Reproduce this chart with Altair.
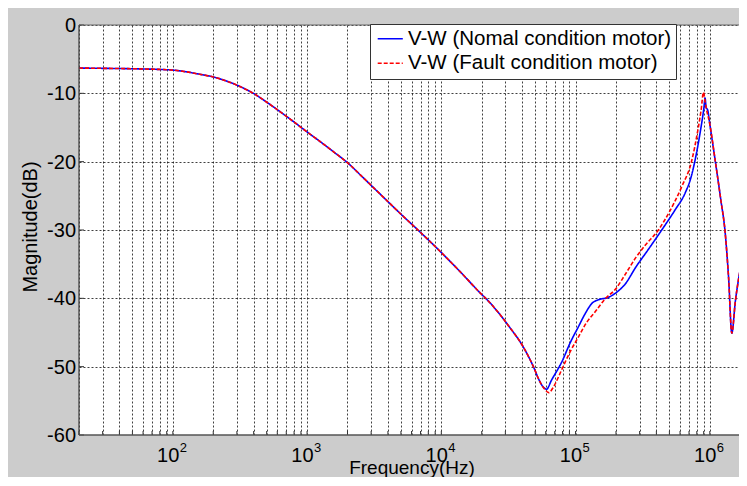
import altair as alt
import pandas as pd

FONT = "Liberation Sans"
NAME_N = "V-W (Nomal condition motor)"
NAME_F = "V-W (Fault condition motor)"

# shared low/mid frequency part (Hz, dB)
shared_f = [20, 32, 50, 79, 100, 126, 158, 200, 251, 316, 398, 501, 631, 794,
            1000, 1259, 1585, 2014, 2512, 3162, 3981, 5012, 6699, 10000, 14125,
            19907, 21677, 28184, 31623, 40738, 49774, 52481]
shared_db = [-6.3, -6.35, -6.4, -6.5, -6.6, -6.85, -7.2, -7.6, -8.2, -9.0, -10.0,
             -11.3, -12.7, -14.15, -15.65, -17.1, -18.6, -20.2, -22.0, -23.9, -25.8,
             -27.7, -30.0, -33.3, -36.3, -39.4, -40.1, -42.7, -44.0, -47.1, -50.5, -51.6]

normal_f = [57544, 60814, 66069, 79433, 91201, 104713, 117490, 131522, 147911,
            173780, 199526, 234423, 281838, 346737, 438531, 549541, 654636, 724436,
            776247, 851138, 901571, 922571, 937562, 966051, 1000000, 1096478,
            1202264, 1303167, 1380384, 1458814, 1548817, 1733804, 1945360]
normal_db = [-53.0, -53.3, -52.0, -49.2, -46.5, -44.2, -42.3, -40.8, -40.2,
             -39.9, -39.2, -37.9, -35.4, -32.9, -30.0, -27.1, -24.6, -22.3,
             -19.8, -15.5, -12.3, -10.7, -12.0, -12.5, -14.5, -19.8,
             -25.3, -30.5, -37.0, -45.1, -40.5, -34.4, -29.5]

fault_f = [58884, 63096, 69183, 79433, 91201, 104713, 120226, 139637, 165577,
           199526, 234423, 281838, 331131, 414000, 501187, 616595, 734514,
           812831, 860994, 897348, 922571, 944061, 1000000, 1096478, 1202264,
           1303167, 1380384, 1458814, 1548817, 1733804, 1945360]
fault_db = [-53.3, -53.8, -52.8, -50.3, -47.8, -45.7, -43.6, -42.0, -40.1,
            -38.6, -36.5, -34.0, -32.2, -30.0, -27.3, -23.7, -19.8,
            -15.5, -12.5, -9.85, -11.2, -12.3, -14.5, -19.8, -25.3,
            -30.5, -37.0, -45.1, -40.5, -34.4, -29.5]

x_grid = [20, 30, 40, 50, 60, 70, 80, 90,
          100, 200, 300, 400, 500, 600, 700, 800, 900,
          1000, 2000, 3000, 4000, 5000, 6000, 7000, 8000, 9000,
          10000, 20000, 30000, 40000, 50000, 60000, 70000, 80000, 90000,
          100000, 200000, 300000, 400000, 500000, 600000, 700000, 800000, 900000,
          1000000]
y_ticks = [-60, -50, -40, -30, -20, -10, 0]
y_labels = ["-60", "-50", "-40", "-30", "-20", "-10", "0"]
major_f = [100, 1000, 10000, 100000, 1000000]
major_exp = ["2", "3", "4", "5", "6"]

rows = []
for f, d in zip(shared_f + normal_f, shared_db + normal_db):
    rows.append({"f": f, "db": d, "s": NAME_N})
for f, d in zip(shared_f + fault_f, shared_db + fault_db):
    rows.append({"f": f, "db": d, "s": NAME_F})
df = pd.DataFrame(rows)

W, H = 660, 410
PL, PT, PB = 71, 17, 42
GRAY = "#cccccc"
xscale = alt.Scale(type="log", domain=[20, 1.65e6])
yscale = alt.Scale(domain=[-60, 0])
xaxis = alt.Axis(values=x_grid, labels=False, ticks=False, domain=False, title=None,
                 grid=True, gridColor="#000", gridDash=[2, 2], gridWidth=1,
                 gridOpacity=0.75)
yaxis = alt.Axis(values=y_ticks, labels=False, ticks=False, domain=False, title=None,
                 grid=True, gridColor="#000", gridDash=[2, 2], gridWidth=1,
                 gridOpacity=0.75)
X = alt.X("f:Q", scale=xscale, axis=xaxis)
Y = alt.Y("db:Q", scale=yscale, axis=yaxis)

leg = alt.Legend(orient="none", legendX=291, legendY=-1, title=None,
                 labelFontSize=20.5, labelFont=FONT, labelColor="#000",
                 labelLimit=600, symbolType="M-3,0H3", symbolSize=70,
                 symbolOffset=5.5, labelOffset=7.5,
                 symbolStrokeWidth=1.6, fillColor="white", strokeColor="#333",
                 padding=4.5, rowPadding=3.5, cornerRadius=0)
color = alt.Color("s:N", scale=alt.Scale(domain=[NAME_N, NAME_F],
                                         range=["#0000ff", "#ff0000"]), legend=leg)
dash = alt.StrokeDash("s:N", scale=alt.Scale(domain=[NAME_N, NAME_F],
                                             range=[[1, 0], [4, 2]]), legend=leg)

base = alt.Chart(df).mark_line(strokeWidth=1.6, interpolate="monotone", clip=True).encode(
    x=X, y=Y, color=color, strokeDash=dash)
blue = base.transform_filter(alt.datum.s == NAME_N)
red = base.transform_filter(alt.datum.s == NAME_F)

one = pd.DataFrame({"a": [0]})
# figure-coloured surround (outside the axes box)
g_left = alt.Chart(one).mark_rect(color=GRAY).encode(
    x=alt.value(-PL), x2=alt.value(0), y=alt.value(-PT), y2=alt.value(H + PB))
g_top = alt.Chart(one).mark_rect(color=GRAY).encode(
    x=alt.value(-PL), x2=alt.value(W), y=alt.value(-PT), y2=alt.value(0))
g_bot = alt.Chart(one).mark_rect(color=GRAY).encode(
    x=alt.value(-PL), x2=alt.value(W), y=alt.value(H), y2=alt.value(H + PB))

bt = alt.Chart(pd.DataFrame({"f": x_grid})).mark_rule(color="#333", strokeWidth=1).encode(
    x=X, y=alt.value(H), y2=alt.value(H - 4))
lt = alt.Chart(pd.DataFrame({"db": y_ticks})).mark_rule(color="#333", strokeWidth=1).encode(
    y=Y, x=alt.value(0), x2=alt.value(5))
top = alt.Chart(one).mark_rule(color="#666", strokeWidth=1).encode(
    x=alt.value(0), x2=alt.value(W), y=alt.value(0))
left = alt.Chart(one).mark_rule(color="#444", strokeWidth=1.3).encode(
    x=alt.value(0), y=alt.value(0), y2=alt.value(H))
bottom = alt.Chart(one).mark_rule(color="#555", strokeWidth=1.5).encode(
    x=alt.value(0), x2=alt.value(W), y=alt.value(H))

ydf = pd.DataFrame({"db": y_ticks, "lab": y_labels})
ylab = alt.Chart(ydf).mark_text(font=FONT, fontSize=20, align="right", baseline="middle",
                                dy=1, color="#000").encode(
    y=Y, x=alt.value(-3), text="lab:N")

mdf = pd.DataFrame({"f": major_f, "e": major_exp})
ten = alt.Chart(mdf).mark_text(font=FONT, fontSize=20, align="right", baseline="alphabetic",
                               dx=6.5, color="#000").encode(
    x=X, y=alt.value(437), text=alt.value("10"))
exp = alt.Chart(mdf).mark_text(font=FONT, fontSize=13, align="left", baseline="alphabetic",
                               dx=7, color="#000").encode(
    x=X, y=alt.value(427), text="e:N")
xt = alt.Chart(one).mark_text(font=FONT, fontSize=19, align="center", baseline="alphabetic",
                              color="#000").encode(
    x=alt.value(333), y=alt.value(449), text=alt.value("Frequency(Hz)"))
yt = alt.Chart(one).mark_text(font=FONT, fontSize=20, align="center", baseline="alphabetic",
                              angle=270, color="#000").encode(
    x=alt.value(-42), y=alt.value(202), text=alt.value("Magnitude(dB)"))

chart = alt.layer(blue, red, g_left, g_top, g_bot, bt, lt, top, left, bottom,
                  ylab, ten, exp, xt, yt).properties(
    width=W, height=H,
    padding={"left": PL, "top": PT, "right": 0, "bottom": PB},
    autosize=alt.AutoSizeParams(type="none"),
    background=GRAY,
).configure_view(fill="white", stroke=None)

chart.save("out.html", embed_options={"renderer": "svg", "actions": False})
